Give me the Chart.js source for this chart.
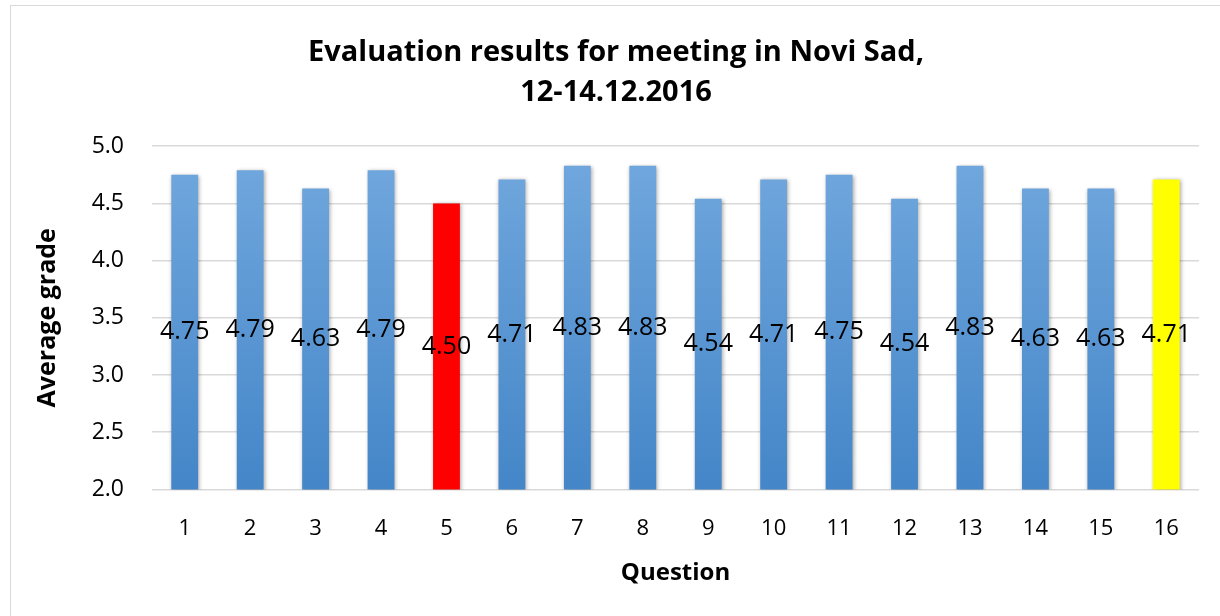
<!DOCTYPE html>
<html>
<head>
<meta charset="utf-8">
<script src="https://cdn.jsdelivr.net/npm/chart.js@4/dist/chart.umd.min.js"></script>
<style>
    body { margin: 0; background: #fff; }
    #wrap { position: relative; width: 1220px; height: 616px; }
    #frame { position: absolute; left: 10px; top: 5px; width: 1230px; height: 640px; border: 1px solid #d9d9d9; pointer-events: none; }
</style>
</head>
<body>
<div id="wrap">
    <canvas id="chart" width="1220" height="616"></canvas>
    <div id="frame"></div>
</div>
<script>
var questions = ['1', '2', '3', '4', '5', '6', '7', '8', '9', '10', '11', '12', '13', '14', '15', '16'];
var grades = [4.75, 4.79, 4.63, 4.79, 4.50, 4.71, 4.83, 4.83, 4.54, 4.71, 4.75, 4.54, 4.83, 4.63, 4.63, 4.71];
var yTicksMin = 2;
var yTicksMax = 5;
var highlightLow = 4;   // index of red bar
var highlightLast = 15; // index of yellow bar

var FONT = '"Open Sans", sans-serif';

function barColor(ctx) {
    var i = ctx.dataIndex;
    if (i === highlightLow) return '#ff0000';
    if (i === highlightLast) return '#ffff00';
    var area = ctx.chart.chartArea;
    if (!area) return '#5b9bd5';
    var g = ctx.chart.ctx.createLinearGradient(0, area.top, 0, area.bottom);
    g.addColorStop(0, '#72a8de');
    g.addColorStop(1, '#4486c8');
    return g;
}

// value labels in the middle of each visible bar, plus a soft shadow
var barLabels = {
    id: 'barLabels',
    beforeDatasetDraw: function(chart) {
        var c = chart.ctx;
        c.save();
        c.shadowColor = 'rgba(0,0,0,0.35)';
        c.shadowBlur = 4;
        c.shadowOffsetX = 1;
        c.shadowOffsetY = 1;
    },
    afterDatasetDraw: function(chart) {
        chart.ctx.restore();
    },
    afterDatasetsDraw: function(chart) {
        var c = chart.ctx;
        var meta = chart.getDatasetMeta(0);
        var yScale = chart.scales.y;
        c.save();
        c.font = '25px ' + FONT;
        c.fillStyle = '#000';
        c.textAlign = 'center';
        c.textBaseline = 'middle';
        for (var i = 0; i < meta.data.length; i++) {
            var x = meta.data[i].x;
            var y = yScale.getPixelForValue((grades[i] + yTicksMin) / 2);
            c.fillText(grades[i].toFixed(2), x, y);
        }
        c.restore();
    }
};

new Chart(document.getElementById('chart'), {
    type: 'bar',
    data: {
        labels: questions,
        datasets: [{
            data: grades,
            backgroundColor: barColor,
            borderWidth: 0,
            categoryPercentage: 1,
            barPercentage: 0.41
        }]
    },
    plugins: [barLabels],
    options: {
        responsive: false,
        animation: false,
        layout: { padding: { left: 33, right: 21, top: 0, bottom: 33 } },
        plugins: {
            legend: { display: false },
            tooltip: { enabled: false },
            title: {
                display: true,
                text: ['Evaluation results for meeting in Novi Sad,', '12-14.12.2016'],
                color: '#000',
                font: { family: FONT, size: 29, weight: 'bold', lineHeight: 1.4 },
                padding: { top: 32, bottom: 33 }
            }
        },
        scales: {
            x: {
                grid: { display: false, drawTicks: false },
                border: { display: false },
                ticks: { color: '#000', font: { family: FONT, size: 22 }, padding: 26 },
                title: {
                    display: true,
                    text: 'Question',
                    color: '#000',
                    font: { family: FONT, size: 24, weight: 'bold', lineHeight: 0.8 },
                    padding: { top: -4, bottom: 0 }
                }
            },
            y: {
                min: yTicksMin,
                max: yTicksMax,
                afterFit: function(scale) { scale.width = 119; },
                grid: { color: '#d9d9d9', lineWidth: 1.5, drawTicks: false },
                border: { display: false },
                ticks: {
                    stepSize: 0.5,
                    color: '#000',
                    padding: 28,
                    font: { family: FONT, size: 23 },
                    callback: function(v) { return v.toFixed(1); }
                },
                title: {
                    display: true,
                    text: 'Average grade',
                    color: '#000',
                    font: { family: FONT, size: 25, weight: 'bold' },
                    padding: 0
                }
            }
        }
    }
});
</script>
</body>
</html>
